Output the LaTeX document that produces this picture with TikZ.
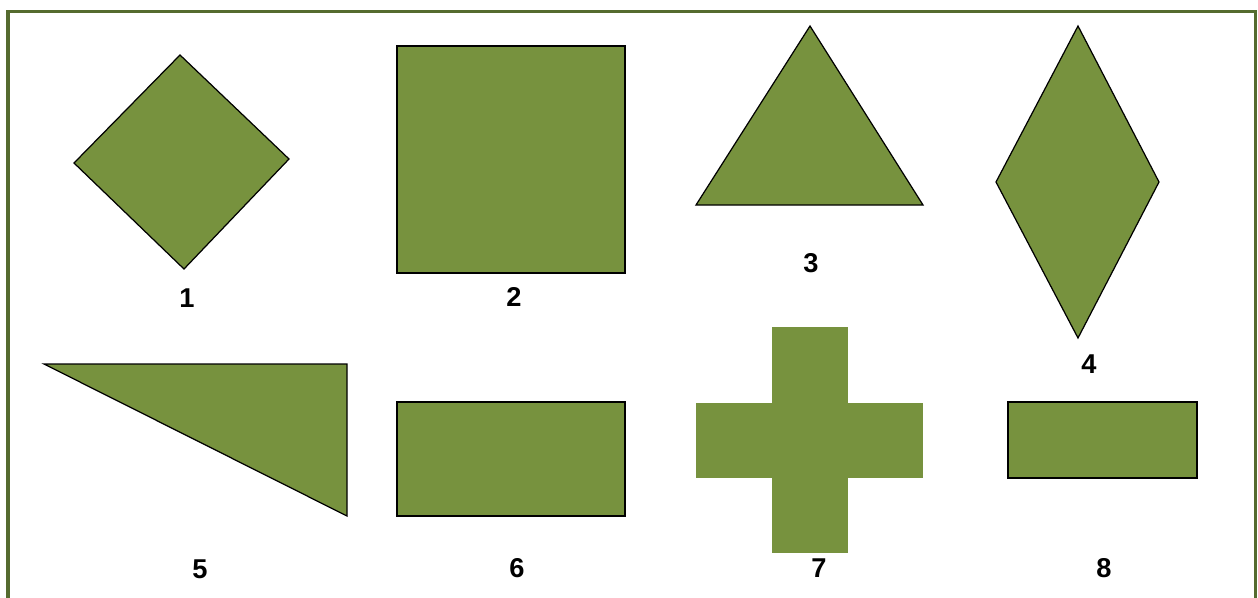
\documentclass[tikz,border=0pt]{standalone}
\usepackage{fontspec}
\setmainfont{Liberation Sans}
\usetikzlibrary{positioning}
\definecolor{olv}{RGB}{119,146,62}
\definecolor{olvdark}{RGB}{85,107,47}

\begin{document}
\begin{tikzpicture}[x=0.02cm, y=-0.02cm,
  figfill/.style={draw=black, line width=0.7pt, fill=olv, line join=miter},
  fignum/.style={font=\fontsize{15.5}{18}\selectfont\bfseries, inner sep=0pt}]
\useasboundingbox (0,0) rectangle (1258,598);
% frame, open at the bottom
\draw[draw=olvdark, line width=0.075cm] (8,598) -- (8,11.5) -- (1255.5,11.5) -- (1255.5,598);
% top row
\draw[figfill] (180,55) -- (289,159) -- (184,269) -- (74,163) -- cycle;
\draw[figfill] (397,46) rectangle (625,273);
\draw[figfill] (810,26) -- (923,205) -- (696,205) -- cycle;
\draw[figfill] (1078,26) -- (1159,182) -- (1078,338) -- (996,182) -- cycle;
% bottom row
\draw[figfill] (44,364) -- (347,364) -- (347,516) -- cycle;
\draw[figfill] (397,402) rectangle (625,516);
\fill[olv] (772,327) rectangle (848,553);
\fill[olv] (696,403) rectangle (923,478);
\draw[figfill] (1008,402) rectangle (1197,478);
% numbers
\foreach \n/\x/\y in {1/187/298, 2/514/297, 3/811/263, 4/1089/364,
                      5/200/569, 6/517/568, 7/819/568, 8/1104/568} {
  \node[fignum] (num\n) at (\x,\y) {\n};
}
\end{tikzpicture}
\end{document}
